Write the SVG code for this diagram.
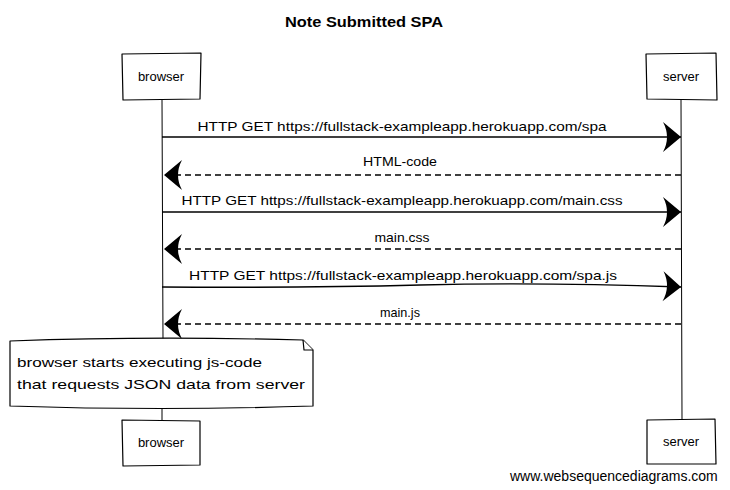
<svg xmlns="http://www.w3.org/2000/svg" width="730" height="490" viewBox="0 0 730 490">
<style>
.box{fill:#fff;stroke:#000;stroke-width:1.2;stroke-linejoin:round}
.life{fill:none;stroke:#000;stroke-width:1}
.msg{fill:none;stroke:#000;stroke-width:1.4}
.ret{fill:none;stroke:#000;stroke-width:1.4;stroke-dasharray:6,4}
.t{font-family:"Liberation Sans","DejaVu Sans",sans-serif;font-size:13px;fill:#000}
.lbl{font-family:"Liberation Sans","DejaVu Sans",sans-serif;font-size:13px;fill:#000;text-anchor:middle}
.title{font-family:"Liberation Sans","DejaVu Sans",sans-serif;font-size:14px;font-weight:bold;fill:#000;text-anchor:middle}
.wsd{font-family:"Liberation Sans",Arial,sans-serif;font-size:14px;fill:#000}
</style>
<defs>
<marker id="head" markerUnits="userSpaceOnUse" markerWidth="24" markerHeight="34" viewBox="-20 -17 24 34" refX="0" refY="0" orient="auto">
<path d="M0,0 L-18,-15 Q-10,0 -18,15 Z" fill="#000"/>
</marker>
</defs>
<rect width="730" height="490" fill="#fff"/>
<text class="title" x="364" y="27" textLength="158" lengthAdjust="spacingAndGlyphs">Note Submitted SPA</text>
<g id="lifelines">
<path class="life" d="M162,100 L163,340"/>
<path class="life" d="M162,407 L162,420"/>
<path class="life" d="M681,100 L682,419"/>
</g>
<g id="browser-top">
<path class="box" d="M122,54 L201,53 L200,99 L123,100 Z"/>
<text class="lbl" x="161" y="81">browser</text>
</g>
<g id="server-top">
<path class="box" d="M646,54 L716,53 L717,100 L647,99 Z"/>
<text class="lbl" x="681" y="81">server</text>
</g>
<g id="browser-bottom">
<path class="box" d="M122,420 L200,421 L200,465 L123,466 Z"/>
<text class="lbl" x="161" y="447">browser</text>
</g>
<g id="server-bottom">
<path class="box" d="M647,420 L715,419 L716,464 L647,464 Z"/>
<text class="lbl" x="681" y="446">server</text>
</g>
<g id="connectors">
<path class="msg" d="M162,137 L681,137" marker-end="url(#head)"/>
<path class="ret" d="M681,175 L164,175" marker-end="url(#head)"/>
<path class="msg" d="M162,212 L681,212" marker-end="url(#head)"/>
<path class="ret" d="M681,249 L164,249" marker-end="url(#head)"/>
<path class="msg" d="M162,287 Q300,288 420,285 T681,287" marker-end="url(#head)"/>
<path class="ret" d="M681,324 L164,324" marker-end="url(#head)"/>
<text class="lbl" x="402" y="131" textLength="409" lengthAdjust="spacingAndGlyphs">HTTP GET https://fullstack-exampleapp.herokuapp.com/spa</text>
<text class="lbl" x="400" y="166" textLength="74" lengthAdjust="spacingAndGlyphs">HTML-code</text>
<text class="lbl" x="402" y="205" textLength="441" lengthAdjust="spacingAndGlyphs">HTTP GET https://fullstack-exampleapp.herokuapp.com/main.css</text>
<text class="lbl" x="402" y="242" textLength="55" lengthAdjust="spacingAndGlyphs">main.css</text>
<text class="lbl" x="403" y="280" textLength="428" lengthAdjust="spacingAndGlyphs">HTTP GET https://fullstack-exampleapp.herokuapp.com/spa.js</text>
<text class="lbl" x="400" y="317" textLength="40" lengthAdjust="spacingAndGlyphs">main.js</text>
</g>
<g id="note">
<path class="box" d="M10,341 Q150,336 303,340 L313,350 L313,406 Q160,411 10,406 Z"/>
<path class="box" d="M303,340 L304,350 L313,350" fill="none"/>
<text class="t" x="17" y="367" textLength="245" lengthAdjust="spacingAndGlyphs">browser starts executing js-code</text>
<text class="t" x="17" y="389" textLength="288" lengthAdjust="spacingAndGlyphs">that requests JSON data from server</text>
</g>
<text class="wsd" x="510" y="481">www.websequencediagrams.com</text>
</svg>
